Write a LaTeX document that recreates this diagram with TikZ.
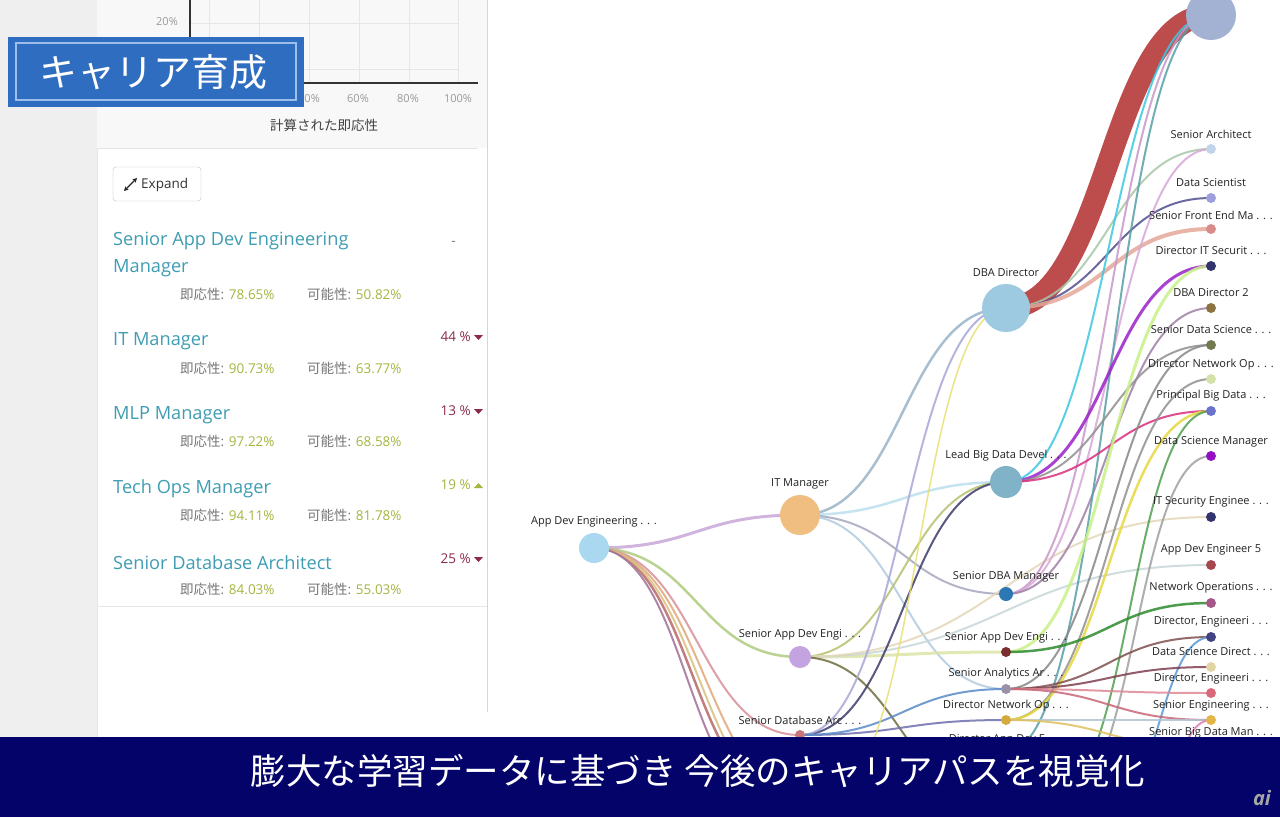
\documentclass[tikz,border=0pt]{standalone}
\usepackage{fontspec}
\setmainfont{Open Sans}
\newfontfamily\jp{Noto Sans CJK JP}
\usetikzlibrary{calc,arrows.meta}
\pgfdeclarelayer{bg}\pgfdeclarelayer{edges}\pgfdeclarelayer{top}
\pgfsetlayers{bg,edges,main,top}
\definecolor{stripgray}{HTML}{EFEFEF}
\definecolor{chartbg}{HTML}{F8F8F8}
\definecolor{sepgray}{HTML}{D6D6D6}
\definecolor{gridgray}{HTML}{E6E6E6}
\definecolor{tickgray}{HTML}{9A9A9A}
\definecolor{boxblue}{HTML}{2F6DC0}
\definecolor{boxinner}{HTML}{9DBDEB}
\definecolor{titleteal}{HTML}{3F9DB3}
\definecolor{detgray}{HTML}{777777}
\definecolor{valgreen}{HTML}{A6B540}
\definecolor{pctred}{HTML}{8C2A4A}
\definecolor{navyband}{HTML}{03036A}
\definecolor{lblblack}{HTML}{222222}
\newcommand\myval[1]{\textcolor{valgreen}{#1}}
\newcommand\mynode[4]{\definecolor{gnc}{HTML}{#4}\node[gn,fill=gnc,minimum size=#3pt] (#1) at (#2) {};}
\newcommand\mylnk[4]{\definecolor{lnkc}{HTML}{#1}\draw[edge,draw=lnkc,line width=#2pt] let \p1=(#3.center),\p2=(#4.center) in (\p1) .. controls ({(\x1+\x2)/2},\y1) and ({(\x1+\x2)/2},\y2) .. (\p2);}
\begin{document}
\begin{tikzpicture}[x=1pt,y=-1pt,
  gn/.style={circle,inner sep=0pt,draw=none},
  lbl/.style={font=\fontsize{11}{13}\selectfont,text=lblblack,inner sep=0pt},
  edge/.style={line cap=butt,opacity=0.85},
  ttl/.style={font=\fontsize{18.2}{21}\selectfont,text=titleteal,inner sep=0pt,anchor=west},
  det/.style={font=\fontsize{13.5}{15}\selectfont,text=detgray,inner sep=0pt,anchor=west},
  pct/.style={font=\fontsize{13.5}{15}\selectfont,inner sep=0pt,anchor=east},
  tick/.style={font=\fontsize{11}{12}\selectfont,text=tickgray,inner sep=0pt}]
\useasboundingbox (0,0) rectangle (1280,817);
% ---------- background ----------
\begin{pgfonlayer}{bg}
\fill[white] (0,0) rectangle (1280,817);
\fill[stripgray] (0,0) rectangle (97,737);
\draw[sepgray!60] (97,0) -- (97,737);
\fill[chartbg] (97,0) rectangle (487,148);
\draw[gridgray] (97,148) -- (478,148);
\draw[sepgray] (487,0) -- (487,712);
\draw[gridgray] (97,606) -- (487,606);
% chart grid
\foreach \gx in {209,259,309,359,409,458} \draw[gridgray] (\gx,0) -- (\gx,83);
\draw[gridgray] (190,23) -- (458,23);
\draw[gridgray] (190,69) -- (458,69);
\draw[black!80,line width=1.2pt] (190,0) -- (190,83) -- (478,83);
\end{pgfonlayer}
\node[tick,anchor=east] (y20) at (178,22) {20\%};
\node[tick] (x40) at (309,99) {40\%};
\node[tick] (x60) at (358,99) {60\%};
\node[tick] (x80) at (408,99) {80\%};
\node[tick] (x100) at (458,99) {100\%};
\node[font=\jp\fontsize{13.5}{15}\selectfont,text=black!75,inner sep=0pt] (xlab) at (324,125) {計算された即応性};
% title box
\fill[boxblue] (8,37) rectangle (304,107);
\draw[boxinner,line width=1.2pt] (16,43) rectangle (296,100);
\node[font=\jp\fontsize{38}{42}\selectfont,text=white,inner sep=0pt] (title) at (153,72) {キャリア育成};
% expand button
\draw[black!25,fill=white,rounded corners=3pt] (113,167) rectangle (201,201);
\draw[black!85,line width=1.1pt,{Stealth[length=4.5pt,width=4.5pt]}-{Stealth[length=4.5pt,width=4.5pt]}] (124,191) -- (137,178);
\node[font=\fontsize{13.5}{15}\selectfont,text=black!80,inner sep=0pt,anchor=west] (expand) at (141,184.5) {Expand};
% list
\node[ttl] (t1) at (113,241) {Senior App Dev Engineering};
\node[ttl] (t1b) at (113,268) {Manager};
\node[det] (d1a) at (180,294) {{\jp 即応性}: \myval{78.65\%}};
\node[det] (d1b) at (307,294) {{\jp 可能性}: \myval{50.82\%}};
\node[pct,text=detgray] (p1) at (456,243) {-};
\node[ttl] (t2) at (113,341) {IT Manager};
\node[det] (d2a) at (180,368) {{\jp 即応性}: \myval{90.73\%}};
\node[det] (d2b) at (307,368) {{\jp 可能性}: \myval{63.77\%}};
\node[pct,text=pctred] (p2) at (471,337) {44 \%};
\fill[pctred] (474,335) -- (483,335) -- (478.5,340) -- cycle;
\node[ttl] (t3) at (113,415) {MLP Manager};
\node[det] (d3a) at (180,441) {{\jp 即応性}: \myval{97.22\%}};
\node[det] (d3b) at (307,441) {{\jp 可能性}: \myval{68.58\%}};
\node[pct,text=pctred] (p3) at (471,411) {13 \%};
\fill[pctred] (474,409) -- (483,409) -- (478.5,414) -- cycle;
\node[ttl] (t4) at (113,489) {Tech Ops Manager};
\node[det] (d4a) at (180,515) {{\jp 即応性}: \myval{94.11\%}};
\node[det] (d4b) at (307,515) {{\jp 可能性}: \myval{81.78\%}};
\node[pct,text=valgreen] (p4) at (471,485) {19 \%};
\fill[valgreen] (474,488) -- (483,488) -- (478.5,483) -- cycle;
\node[ttl] (t5) at (113,563) {Senior Database Architect};
\node[det] (d5a) at (180,589) {{\jp 即応性}: \myval{84.03\%}};
\node[det] (d5b) at (307,589) {{\jp 可能性}: \myval{55.03\%}};
\node[pct,text=pctred] (p5) at (471,559) {25 \%};
\fill[pctred] (474,557) -- (483,557) -- (478.5,562) -- cycle;
% ---------- graph nodes ----------
\mynode{ade}{594,548}{30}{AAD8F0}
\mynode{itm}{800,515}{40}{EFBE80}
\mynode{sade}{800,657}{22}{C4A4E0}
\mynode{sda}{800,735}{10}{C87878}
\mynode{dbad}{1006,308}{48}{9ECAE1}
\mynode{lbd}{1006,482}{32}{80B2C8}
\mynode{sdbm}{1006,594}{14}{2B78B5}
\mynode{sadeb}{1006,652}{10}{7A2E30}
\mynode{saa}{1006,689}{10}{9A90A8}
\mynode{dno}{1006,720}{10}{D4AA3C}
\mynode{dade}{1006,752}{10}{8A9AB8}
\mynode{topn}{1211,15}{50}{A3B1D2}
\mynode{sa}{1211,149}{10}{C3D3EA}
\mynode{ds}{1211,198}{10}{9E9EDC}
\mynode{sfe}{1211,229}{10}{D98C8C}
\mynode{dits}{1211,266}{10}{33336E}
\mynode{dbab}{1211,308}{10}{8C7442}
\mynode{sdsc}{1211,345}{10}{737A52}
\mynode{dnob}{1211,379}{10}{D3E2A8}
\mynode{pbd}{1211,411}{10}{6A72CC}
\mynode{dsm}{1211,456}{10}{9410C4}
\mynode{itse}{1211,517}{10}{34346E}
\mynode{adef}{1211,565}{10}{A84650}
\mynode{nop}{1211,603}{10}{A45888}
\mynode{denga}{1211,637}{10}{434384}
\mynode{dsd}{1211,667}{10}{E3D4A6}
\mynode{dengb}{1211,693}{10}{D8687A}
\mynode{seng}{1211,720}{10}{E4B64A}
\mynode{sbdm}{1211,748}{10}{D87090}
% hidden ends below the banner
\coordinate (h1) at (790,800);
\coordinate (h2) at (815,805);
\coordinate (h3) at (805,812);
\coordinate (h4) at (780,808);
\coordinate (h5) at (1000,800);
\coordinate (b1) at (830,790);
\coordinate (b3) at (1050,800);
\coordinate (b4) at (1060,805);
\coordinate (b5) at (1110,800);
\coordinate (b6) at (1150,790);
\coordinate (b7) at (1120,800);
% labels
\node[lbl] (l-ade) at (594,522) {App Dev Engineering . . .};
\node[lbl] (l-itm) at (800,484) {IT Manager};
\node[lbl] (l-sade) at (800,635) {Senior App Dev Engi . . .};
\node[lbl] (l-sda) at (800,720) {Senior Database Arc . . .};
\node[lbl] (l-dbad) at (1006,273) {DBA Director};
\node[lbl] (l-lbd) at (1006,456) {Lead Big Data Devel . . .};
\node[lbl] (l-sdbm) at (1006,577) {Senior DBA Manager};
\node[lbl] (l-sadeb) at (1006,638) {Senior App Dev Engi . . .};
\node[lbl] (l-saa) at (1006,674) {Senior Analytics Ar . . .};
\node[lbl] (l-dno) at (1006,706) {Director Network Op . . .};
\node[lbl] (l-dade) at (1006,740) {Director App Dev E . . .};
\node[lbl] (l-sa) at (1211,134) {Senior Architect};
\node[lbl] (l-ds) at (1211,183) {Data Scientist};
\node[lbl] (l-sfe) at (1211,215) {Senior Front End Ma . . .};
\node[lbl] (l-dits) at (1211,251) {Director IT Securit . . .};
\node[lbl] (l-dbab) at (1211,293) {DBA Director 2};
\node[lbl] (l-sdsc) at (1211,330) {Senior Data Science . . .};
\node[lbl] (l-dnob) at (1211,365) {Director Network Op . . .};
\node[lbl] (l-pbd) at (1211,396) {Principal Big Data . . .};
\node[lbl] (l-dsm) at (1211,442) {Data Science Manager};
\node[lbl] (l-itse) at (1211,502) {IT Security Enginee . . .};
\node[lbl] (l-adef) at (1211,550) {App Dev Engineer 5};
\node[lbl] (l-nop) at (1211,588) {Network Operations . . .};
\node[lbl] (l-denga) at (1211,622) {Director, Engineeri . . .};
\node[lbl] (l-dsd) at (1211,652) {Data Science Direct . . .};
\node[lbl] (l-dengb) at (1211,679) {Director, Engineeri . . .};
\node[lbl] (l-seng) at (1211,706) {Senior Engineering . . .};
\node[lbl] (l-sbdm) at (1211,733) {Senior Big Data Man . . .};
% ---------- edges ----------
\begin{pgfonlayer}{edges}
\mylnk{C8A8D8}{3}{ade}{itm}
\mylnk{B0CC80}{2.5}{ade}{sade}
\mylnk{D89098}{2}{ade}{sda}
\mylnk{B86868}{2.5}{ade}{h1}
\mylnk{E0A878}{2}{ade}{h2}
\mylnk{D8C080}{2}{ade}{h3}
\mylnk{A07098}{2}{ade}{h4}
\mylnk{9AB4C8}{2.5}{itm}{dbad}
\mylnk{BCE0EE}{2.5}{itm}{lbd}
\mylnk{A8A8C0}{2}{itm}{sdbm}
\mylnk{B0CCE0}{2}{itm}{saa}
\mylnk{B8C070}{2}{sade}{lbd}
\mylnk{DCE4A8}{3}{sade}{sadeb}
\mylnk{C8D6D8}{2}{sade}{adef}
\mylnk{E4D8B8}{2}{sade}{itse}
\mylnk{6E6E40}{2}{sade}{h5}
\mylnk{3C3C6C}{2}{sda}{lbd}
\mylnk{A8A8D8}{2}{sda}{dbad}
\mylnk{7070B0}{2}{sda}{dno}
\mylnk{5A8AC8}{2}{sda}{saa}
\mylnk{E8E070}{1.5}{b1}{dbad}
\mylnk{B22E2E}{22}{dbad}{topn}
\mylnk{A8C8A8}{2}{dbad}{sa}
\mylnk{505090}{2}{dbad}{ds}
\mylnk{E4A898}{4}{dbad}{sfe}
\mylnk{3CC8E0}{2}{lbd}{topn}
\mylnk{C898C8}{2}{sdbm}{topn}
\mylnk{D8A8D8}{2}{sdbm}{sa}
\mylnk{A080A8}{2}{sdbm}{dbab}
\mylnk{58A0A8}{2}{dade}{topn}
\mylnk{9A22C8}{3}{lbd}{dits}
\mylnk{909090}{2}{lbd}{sdsc}
\mylnk{D83080}{2}{lbd}{pbd}
\mylnk{C8F088}{3}{sadeb}{dits}
\mylnk{888888}{2}{saa}{sdsc}
\mylnk{909090}{2}{dno}{dnob}
\mylnk{E8D840}{2.5}{dno}{pbd}
\mylnk{50A050}{2}{b3}{pbd}
\mylnk{A0A0A0}{2}{b4}{dsm}
\mylnk{2E8A2E}{2.5}{sadeb}{nop}
\mylnk{805050}{2}{saa}{denga}
\mylnk{5A9AD8}{2}{b5}{denga}
\mylnk{804050}{2}{saa}{dsd}
\mylnk{E08898}{2}{saa}{dengb}
\mylnk{C86878}{2}{saa}{seng}
\mylnk{B0C4D0}{2}{dno}{seng}
\mylnk{E080B0}{2}{b6}{seng}
\mylnk{E070A0}{2}{b7}{sbdm}
\mylnk{E0C060}{2}{dno}{sbdm}
\end{pgfonlayer}
% ---------- banner ----------
\begin{pgfonlayer}{top}
\fill[navyband] (0,737) rectangle (1280,817);
\node[font=\jp\fontsize{35.5}{40}\selectfont,text=white,inner sep=0pt] (banner) at (698,771) {膨大な学習データに基づき 今後のキャリアパスを視覚化};
\node[font=\bfseries\itshape\fontsize{20}{22}\selectfont,text=black!35,inner sep=0pt] (logo) at (1262,798) {ai};
\end{pgfonlayer}
\end{tikzpicture}
\end{document}
